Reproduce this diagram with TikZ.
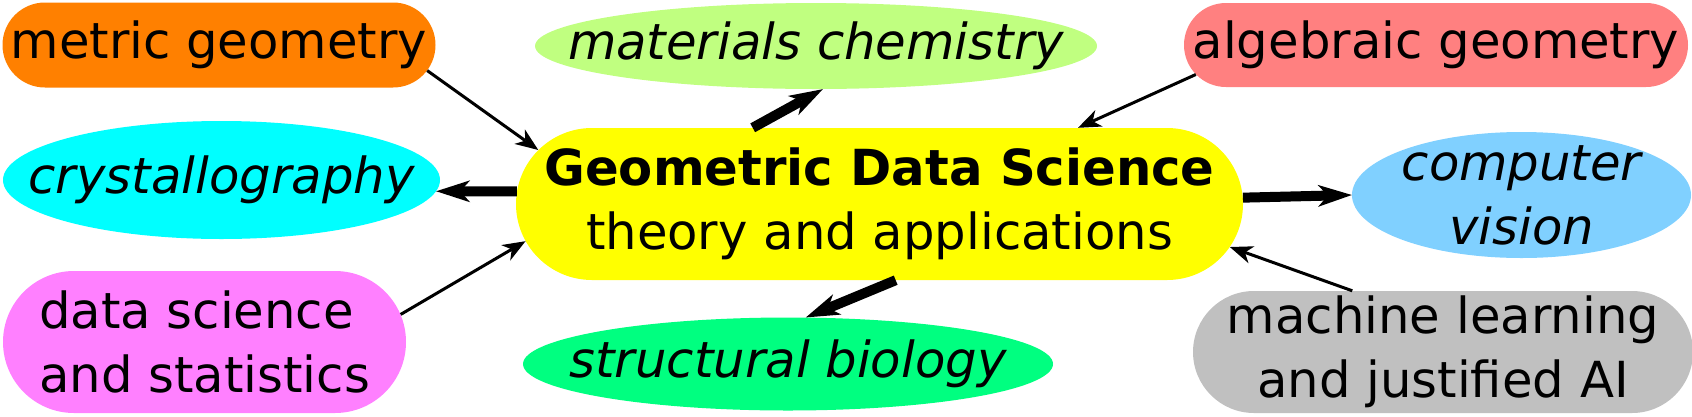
\documentclass[tikz,border=0pt]{standalone}
\usepackage{fontspec}
\setmainfont{DejaVu Sans}[ItalicFont={DejaVu Sans Oblique},BoldFont={DejaVu Sans Bold}]
\usetikzlibrary{arrows.meta,shapes.misc,shapes.geometric}
\definecolor{cMetric}{HTML}{FF8000}
\definecolor{cMat}{HTML}{C0FF80}
\definecolor{cAlg}{HTML}{FF8080}
\definecolor{cCrys}{HTML}{00FFFF}
\definecolor{cCore}{HTML}{FFFF00}
\definecolor{cVision}{HTML}{80D0FF}
\definecolor{cData}{HTML}{FF80FF}
\definecolor{cBio}{HTML}{00FF80}
\definecolor{cML}{HTML}{C0C0C0}
\begin{document}
\begin{tikzpicture}[x=1pt,y=-1pt,
  every node/.style={font=\fontsize{49.7}{64}\selectfont, text=black},
  pill/.style={rounded rectangle, fill=#1, inner sep=0pt},
  oval/.style={ellipse, fill=#1, inner xsep=-400pt, inner ysep=-200pt,
    font=\fontsize{49.7}{64}\selectfont\itshape},
  weakarrow/.style={line width=3pt, -{Stealth[length=23pt,width=18pt,inset=7pt,line width=0pt]}},
  strongarrow/.style={line width=10pt, -{Stealth[length=34pt,width=22pt,inset=10pt,line width=0pt]}},
]
\useasboundingbox (0,0) rectangle (1692,416);

\node[pill=cMetric, minimum width=433pt, minimum height=85pt] (metric) at (219,45) {metric geometry};
\node[oval=cMat, minimum width=562pt, minimum height=86pt] (mat) at (816,46) {materials chemistry};
\node[pill=cAlg, minimum width=504pt, minimum height=84pt] (alg) at (1436,45) {algebraic geometry};
\node[oval=cCrys, minimum width=437pt, minimum height=118pt] (crys) at (221.5,180) {crystallography};
\node[pill=cCore, minimum width=727pt, minimum height=152pt, align=center] (gds) at (879.5,204)
  {\textbf{Geometric Data Science}\\theory and applications};
\node[oval=cVision, minimum width=339pt, minimum height=126pt, align=center] (cv) at (1521.5,195) {computer\\vision};
\node[pill=cData, minimum width=403pt, minimum height=142pt, align=left] (data) at (204.5,342) {data science\\and statistics};
\node[oval=cBio, minimum width=530pt, minimum height=93pt] (sb) at (788,364) {structural biology};
\node[pill=cML, minimum width=492pt, minimum height=122pt, inner xsep=-3pt, align=center] (ml) at (1443,352) {machine learning\\and justified AI};

\draw[weakarrow] (metric.-7.5) -- (gds.171.2);
\draw[strongarrow] (gds.149.8) -- (mat.-81.7);
\draw[weakarrow] (alg.187.8) -- (gds.21.9);
\draw[strongarrow] (gds.178.1) -- (crys.-3.2);
\draw[strongarrow] (gds.1.4) -- (cv.180);
\draw[weakarrow] (data.8.07) -- (gds.186.2);
\draw[strongarrow] (gds.-78.6) -- (sb.69.7);
\draw[weakarrow] (ml.146.3) -- (gds.-7.9);
\end{tikzpicture}
\end{document}
